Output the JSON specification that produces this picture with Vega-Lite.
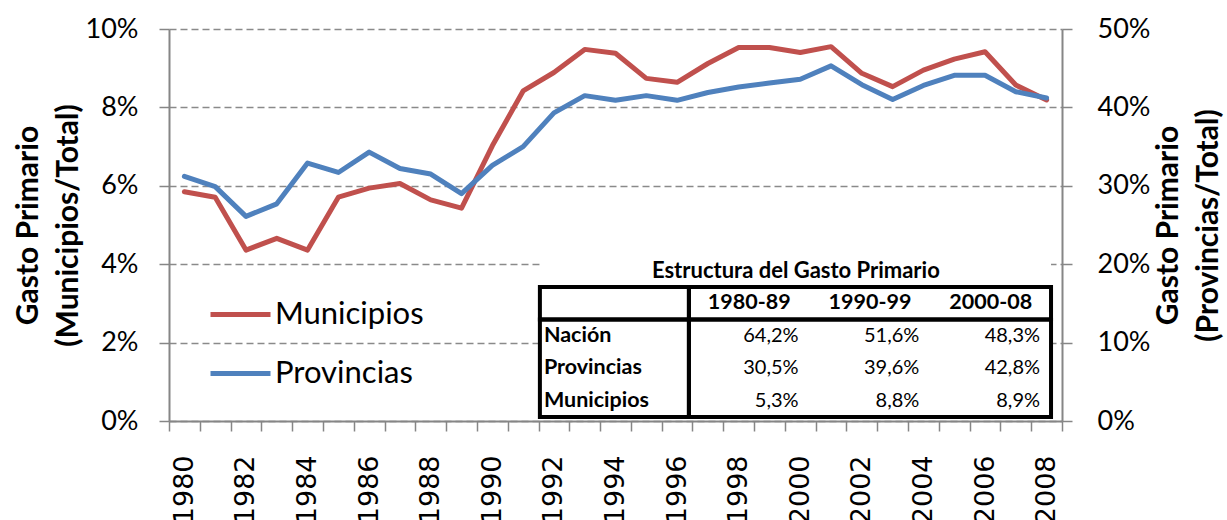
{
  "$schema": "https://vega.github.io/schema/vega-lite/v6.json",
  "width": 893,
  "height": 392,
  "autosize": {"type": "none"},
  "padding": {"left": 169, "top": 29, "right": 165, "bottom": 99},
  "background": "white",
  "config": {
    "view": {"stroke": null},
    "font": "Lato",
    "axis": {"labelFont": "Lato", "titleFont": "Lato", "labelColor": "black", "titleColor": "black"}
  },
  "datasets": {
    "gasto": [
      {"anio": 1980, "serie": "Municipios", "participacion": 0.0585},
      {"anio": 1981, "serie": "Municipios", "participacion": 0.0571},
      {"anio": 1982, "serie": "Municipios", "participacion": 0.0436},
      {"anio": 1983, "serie": "Municipios", "participacion": 0.0466},
      {"anio": 1984, "serie": "Municipios", "participacion": 0.0436},
      {"anio": 1985, "serie": "Municipios", "participacion": 0.0571},
      {"anio": 1986, "serie": "Municipios", "participacion": 0.0594},
      {"anio": 1987, "serie": "Municipios", "participacion": 0.0606},
      {"anio": 1988, "serie": "Municipios", "participacion": 0.0564},
      {"anio": 1989, "serie": "Municipios", "participacion": 0.0543},
      {"anio": 1990, "serie": "Municipios", "participacion": 0.0702},
      {"anio": 1991, "serie": "Municipios", "participacion": 0.0842},
      {"anio": 1992, "serie": "Municipios", "participacion": 0.0889},
      {"anio": 1993, "serie": "Municipios", "participacion": 0.0948},
      {"anio": 1994, "serie": "Municipios", "participacion": 0.0938},
      {"anio": 1995, "serie": "Municipios", "participacion": 0.0874},
      {"anio": 1996, "serie": "Municipios", "participacion": 0.0864},
      {"anio": 1997, "serie": "Municipios", "participacion": 0.0912},
      {"anio": 1998, "serie": "Municipios", "participacion": 0.0953},
      {"anio": 1999, "serie": "Municipios", "participacion": 0.0953},
      {"anio": 2000, "serie": "Municipios", "participacion": 0.0940},
      {"anio": 2001, "serie": "Municipios", "participacion": 0.0955},
      {"anio": 2002, "serie": "Municipios", "participacion": 0.0887},
      {"anio": 2003, "serie": "Municipios", "participacion": 0.0853},
      {"anio": 2004, "serie": "Municipios", "participacion": 0.0895},
      {"anio": 2005, "serie": "Municipios", "participacion": 0.0923},
      {"anio": 2006, "serie": "Municipios", "participacion": 0.0942},
      {"anio": 2007, "serie": "Municipios", "participacion": 0.0857},
      {"anio": 2008, "serie": "Municipios", "participacion": 0.0819},
      {"anio": 1980, "serie": "Provincias", "participacion": 0.312},
      {"anio": 1981, "serie": "Provincias", "participacion": 0.299},
      {"anio": 1982, "serie": "Provincias", "participacion": 0.261},
      {"anio": 1983, "serie": "Provincias", "participacion": 0.277},
      {"anio": 1984, "serie": "Provincias", "participacion": 0.329},
      {"anio": 1985, "serie": "Provincias", "participacion": 0.317},
      {"anio": 1986, "serie": "Provincias", "participacion": 0.343},
      {"anio": 1987, "serie": "Provincias", "participacion": 0.322},
      {"anio": 1988, "serie": "Provincias", "participacion": 0.315},
      {"anio": 1989, "serie": "Provincias", "participacion": 0.290},
      {"anio": 1990, "serie": "Provincias", "participacion": 0.326},
      {"anio": 1991, "serie": "Provincias", "participacion": 0.350},
      {"anio": 1992, "serie": "Provincias", "participacion": 0.393},
      {"anio": 1993, "serie": "Provincias", "participacion": 0.415},
      {"anio": 1994, "serie": "Provincias", "participacion": 0.409},
      {"anio": 1995, "serie": "Provincias", "participacion": 0.415},
      {"anio": 1996, "serie": "Provincias", "participacion": 0.409},
      {"anio": 1997, "serie": "Provincias", "participacion": 0.419},
      {"anio": 1998, "serie": "Provincias", "participacion": 0.426},
      {"anio": 1999, "serie": "Provincias", "participacion": 0.431},
      {"anio": 2000, "serie": "Provincias", "participacion": 0.436},
      {"anio": 2001, "serie": "Provincias", "participacion": 0.453},
      {"anio": 2002, "serie": "Provincias", "participacion": 0.429},
      {"anio": 2003, "serie": "Provincias", "participacion": 0.410},
      {"anio": 2004, "serie": "Provincias", "participacion": 0.428},
      {"anio": 2005, "serie": "Provincias", "participacion": 0.441},
      {"anio": 2006, "serie": "Provincias", "participacion": 0.441},
      {"anio": 2007, "serie": "Provincias", "participacion": 0.420},
      {"anio": 2008, "serie": "Provincias", "participacion": 0.412}
    ],
    "tabla": [
      {"fila": "Nación", "periodo": "1980-89", "valor": "64,2%"},
      {"fila": "Nación", "periodo": "1990-99", "valor": "51,6%"},
      {"fila": "Nación", "periodo": "2000-08", "valor": "48,3%"},
      {"fila": "Provincias", "periodo": "1980-89", "valor": "30,5%"},
      {"fila": "Provincias", "periodo": "1990-99", "valor": "39,6%"},
      {"fila": "Provincias", "periodo": "2000-08", "valor": "42,8%"},
      {"fila": "Municipios", "periodo": "1980-89", "valor": "5,3%"},
      {"fila": "Municipios", "periodo": "1990-99", "valor": "8,8%"},
      {"fila": "Municipios", "periodo": "2000-08", "valor": "8,9%"}
    ],
    "bloques": [
      {"desde": "encabezado", "hasta": "encabezado"},
      {"desde": "Nación", "hasta": "Municipios"}
    ]
  },
  "resolve": {"scale": {"x": "independent", "y": "independent"}},
  "layer": [
    {
      "data": {"name": "gasto"},
      "resolve": {"scale": {"y": "independent"}},
      "encoding": {
        "x": {
          "field": "anio",
          "type": "quantitative",
          "scale": {"domain": [1979.5, 2008.5], "nice": false, "zero": false},
          "axis": {
            "title": null,
            "grid": false,
            "values": [1979.5, 1980, 1980.5, 1981.5, 1982, 1982.5, 1983.5, 1984, 1984.5, 1985.5, 1986, 1986.5, 1987.5, 1988, 1988.5, 1989.5, 1990, 1990.5, 1991.5, 1992, 1992.5, 1993.5, 1994, 1994.5, 1995.5, 1996, 1996.5, 1997.5, 1998, 1998.5, 1999.5, 2000, 2000.5, 2001.5, 2002, 2002.5, 2003.5, 2004, 2004.5, 2005.5, 2006, 2006.5, 2007.5, 2008, 2008.5],
            "labelExpr": "datum.value % 1 === 0 ? datum.value + '' : ''",
            "tickOpacity": {"condition": {"test": "datum.value % 1 !== 0", "value": 1}, "value": 0},
            "tickSize": 10,
            "tickWidth": 1.5,
            "tickColor": "#868686",
            "domainColor": "#868686",
            "domainWidth": 2,
            "labelAngle": 270,
            "labelAlign": "right",
            "labelBaseline": "middle",
            "labelFont": "DejaVu Sans",
            "labelFontSize": 27,
            "labelPadding": 24,
            "labelOverlap": false,
            "labelFlush": false,
            "labelBound": false
          }
        },
        "color": {
          "field": "serie",
          "type": "nominal",
          "scale": {"domain": ["Municipios", "Provincias"], "range": ["#C0504D", "#4F81BD"]},
          "legend": {
            "title": null,
            "orient": "none",
            "legendX": 39,
            "legendY": 253,
            "symbolType": "stroke",
            "symbolSize": 3600,
            "symbolStrokeWidth": 5,
            "labelFont": "Lato",
            "labelFontSize": 31,
            "labelColor": "black",
            "labelOffset": 2,
            "labelLimit": 300,
            "padding": 0,
            "rowPadding": 11
          }
        }
      },
      "layer": [
        {
          "transform": [{"filter": "datum.serie === 'Municipios'"}],
          "mark": {"type": "line", "strokeWidth": 5, "strokeCap": "round", "strokeJoin": "round"},
          "encoding": {
            "y": {
              "field": "participacion",
              "type": "quantitative",
              "scale": {"domain": [0, 0.1], "nice": false, "zero": true},
              "axis": {
                "orient": "left",
                "values": [0, 0.02, 0.04, 0.06, 0.08, 0.1],
                "format": ".0%",
                "title": ["Gasto Primario", "(Municipios/Total)"],
                "titleFontSize": 30,
                "titleFontWeight": "bold",
                "titleLineHeight": 40,
                "titlePadding": 2,
                "grid": true,
                "gridDash": [7, 4],
                "gridColor": "#8a8a8a",
                "gridWidth": 1.3,
                "tickSize": 10,
                "tickWidth": 1.5,
                "tickColor": "#868686",
                "domainColor": "#868686",
                "domainWidth": 2,
                "labelFontSize": 27,
                "labelPadding": 21
              }
            }
          }
        },
        {
          "transform": [{"filter": "datum.serie === 'Provincias'"}],
          "mark": {"type": "line", "strokeWidth": 5, "strokeCap": "round", "strokeJoin": "round"},
          "encoding": {
            "y": {
              "field": "participacion",
              "type": "quantitative",
              "scale": {"domain": [0, 0.5], "nice": false, "zero": true},
              "axis": {
                "orient": "right",
                "values": [0, 0.1, 0.2, 0.3, 0.4, 0.5],
                "format": ".0%",
                "title": ["Gasto Primario", "(Provincias/Total)"],
                "titleAngle": 270,
                "titleBaseline": "top",
                "titleFontSize": 30,
                "titleFontWeight": "bold",
                "titleLineHeight": 40,
                "titlePadding": -36,
                "grid": false,
                "tickSize": 10,
                "tickWidth": 1.5,
                "tickColor": "#868686",
                "domainColor": "#868686",
                "domainWidth": 2,
                "labelFontSize": 27,
                "labelPadding": 25
              }
            }
          }
        }
      ]
    },
    {
      "layer": [
        {
          "data": {"values": [{"bloque": "fondo"}]},
          "mark": {"type": "rect", "fill": "white", "strokeWidth": 0},
          "encoding": {
            "x": {"datum": "Fila", "type": "nominal", "bandPosition": -0.2345, "axis": null,
                  "scale": {"type": "band", "domain": ["_e1", "_e2", "Fila", "1980-89", "1990-99", "2000-08"], "paddingInner": 0, "paddingOuter": 0.699, "align": 0.935}},
            "x2": {"datum": "2000-08", "bandPosition": 1},
            "y": {"datum": "titulo", "type": "nominal", "bandPosition": 0, "axis": null,
                  "scale": {"type": "band", "domain": ["_f1", "_f2", "_f3", "_f4", "_f5", "_f6", "titulo", "encabezado", "Nación", "Provincias", "Municipios"], "paddingInner": 0, "paddingOuter": 0.5308, "align": 0.8837}},
            "y2": {"datum": "Municipios", "bandPosition": 1}
          }
        },
        {
          "data": {"name": "bloques"},
          "mark": {"type": "rect", "fillOpacity": 0, "stroke": "black", "strokeWidth": 4},
          "encoding": {
            "x": {"datum": "Fila", "type": "nominal", "bandPosition": -0.2345, "axis": null,
                  "scale": {"type": "band", "domain": ["_e1", "_e2", "Fila", "1980-89", "1990-99", "2000-08"], "paddingInner": 0, "paddingOuter": 0.699, "align": 0.935}},
            "x2": {"datum": "Fila", "bandPosition": 1},
            "y": {"field": "desde", "type": "nominal", "bandPosition": 0, "axis": null,
                  "scale": {"type": "band", "domain": ["_f1", "_f2", "_f3", "_f4", "_f5", "_f6", "titulo", "encabezado", "Nación", "Provincias", "Municipios"], "paddingInner": 0, "paddingOuter": 0.5308, "align": 0.8837}},
            "y2": {"field": "hasta", "bandPosition": 1}
          }
        },
        {
          "data": {"name": "bloques"},
          "mark": {"type": "rect", "fillOpacity": 0, "stroke": "black", "strokeWidth": 4},
          "encoding": {
            "x": {"datum": "1980-89", "type": "nominal", "bandPosition": 0, "axis": null,
                  "scale": {"type": "band", "domain": ["_e1", "_e2", "Fila", "1980-89", "1990-99", "2000-08"], "paddingInner": 0, "paddingOuter": 0.699, "align": 0.935}},
            "x2": {"datum": "2000-08", "bandPosition": 1},
            "y": {"field": "desde", "type": "nominal", "bandPosition": 0, "axis": null,
                  "scale": {"type": "band", "domain": ["_f1", "_f2", "_f3", "_f4", "_f5", "_f6", "titulo", "encabezado", "Nación", "Provincias", "Municipios"], "paddingInner": 0, "paddingOuter": 0.5308, "align": 0.8837}},
            "y2": {"field": "hasta", "bandPosition": 1}
          }
        },
        {
          "data": {"values": [{"titulo": "Estructura del Gasto Primario"}]},
          "mark": {"type": "text", "font": "Lato", "fontSize": 22, "fontWeight": "bold", "align": "center", "baseline": "middle", "color": "black"},
          "encoding": {
            "text": {"field": "titulo"},
            "x": {"datum": "1980-89", "type": "nominal", "bandPosition": 0.886, "axis": null,
                  "scale": {"type": "band", "domain": ["_e1", "_e2", "Fila", "1980-89", "1990-99", "2000-08"], "paddingInner": 0, "paddingOuter": 0.699, "align": 0.935}},
            "y": {"datum": "titulo", "type": "nominal", "bandPosition": 0.5, "axis": null,
                  "scale": {"type": "band", "domain": ["_f1", "_f2", "_f3", "_f4", "_f5", "_f6", "titulo", "encabezado", "Nación", "Provincias", "Municipios"], "paddingInner": 0, "paddingOuter": 0.5308, "align": 0.8837}}
          }
        },
        {
          "data": {"name": "tabla"},
          "transform": [{"filter": "datum.fila === 'Nación'"}],
          "mark": {"type": "text", "font": "Lato", "fontSize": 21.5, "fontWeight": "bold", "align": "center", "baseline": "middle", "color": "black"},
          "encoding": {
            "text": {"field": "periodo"},
            "x": {"field": "periodo", "type": "nominal", "bandPosition": 0.5, "axis": null,
                  "scale": {"type": "band", "domain": ["_e1", "_e2", "Fila", "1980-89", "1990-99", "2000-08"], "paddingInner": 0, "paddingOuter": 0.699, "align": 0.935}},
            "y": {"datum": "encabezado", "type": "nominal", "bandPosition": 0.5, "axis": null,
                  "scale": {"type": "band", "domain": ["_f1", "_f2", "_f3", "_f4", "_f5", "_f6", "titulo", "encabezado", "Nación", "Provincias", "Municipios"], "paddingInner": 0, "paddingOuter": 0.5308, "align": 0.8837}}
          }
        },
        {
          "data": {"name": "tabla"},
          "transform": [{"filter": "datum.periodo === '1980-89'"}],
          "mark": {"type": "text", "font": "Lato", "fontSize": 21.5, "fontWeight": "bold", "align": "left", "baseline": "middle", "dx": 4, "color": "black"},
          "encoding": {
            "text": {"field": "fila"},
            "x": {"datum": "Fila", "type": "nominal", "bandPosition": -0.2345, "axis": null,
                  "scale": {"type": "band", "domain": ["_e1", "_e2", "Fila", "1980-89", "1990-99", "2000-08"], "paddingInner": 0, "paddingOuter": 0.699, "align": 0.935}},
            "y": {"field": "fila", "type": "nominal", "bandPosition": 0.5, "axis": null,
                  "scale": {"type": "band", "domain": ["_f1", "_f2", "_f3", "_f4", "_f5", "_f6", "titulo", "encabezado", "Nación", "Provincias", "Municipios"], "paddingInner": 0, "paddingOuter": 0.5308, "align": 0.8837}}
          }
        },
        {
          "data": {"name": "tabla"},
          "mark": {"type": "text", "font": "Lato", "fontSize": 20, "align": "right", "baseline": "middle", "dx": -11, "color": "black"},
          "encoding": {
            "text": {"field": "valor"},
            "x": {"field": "periodo", "type": "nominal", "bandPosition": 1, "axis": null,
                  "scale": {"type": "band", "domain": ["_e1", "_e2", "Fila", "1980-89", "1990-99", "2000-08"], "paddingInner": 0, "paddingOuter": 0.699, "align": 0.935}},
            "y": {"field": "fila", "type": "nominal", "bandPosition": 0.5, "axis": null,
                  "scale": {"type": "band", "domain": ["_f1", "_f2", "_f3", "_f4", "_f5", "_f6", "titulo", "encabezado", "Nación", "Provincias", "Municipios"], "paddingInner": 0, "paddingOuter": 0.5308, "align": 0.8837}}
          }
        }
      ]
    }
  ]
}
